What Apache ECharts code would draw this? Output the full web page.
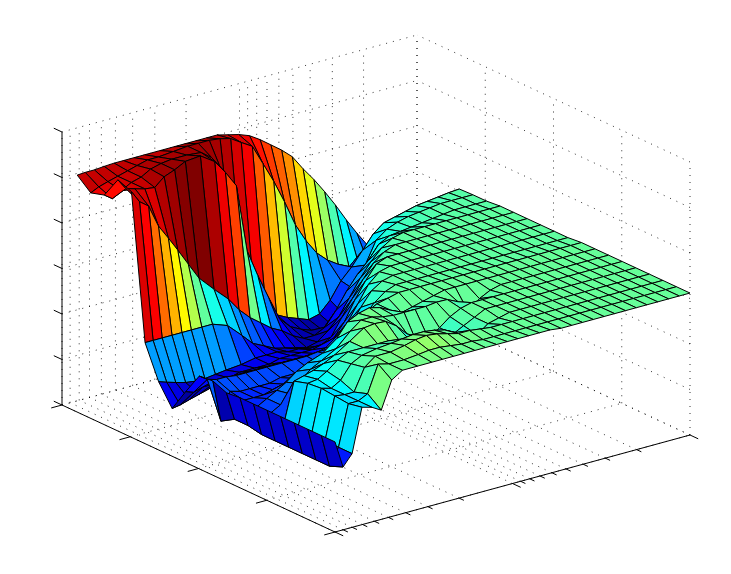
<!DOCTYPE html>
<html><head><meta charset="utf-8">
<style>html,body{margin:0;padding:0;background:#fff}#c{width:731px;height:574px}</style>
<script src="https://cdn.jsdelivr.net/npm/echarts@6/dist/echarts.min.js"></script>
</head><body><div id="c"></div>
<script>
const freq=[100,90.1,80.1,70.5,62,54.9,47.9,41.7,34.3,28.5,24.8,21.5,18.7,16.3,14.2,12.3,10.7,9.33,8.11,7.05,6.14,5.34,4.64,4.04,3.51,3.05,2.66,2.31,2.01,1.75,1.52,1.32,1.15,1];
const depth=[0,.199,.398,.596,.795,.994,1.193,1.392,1.59,1.789,1.988,2.187,2.386,2.584,2.783,2.982,3.181,3.38,3.578,3.777];
const freqMajor=[1,10,100];
const freqMinor=[2,3,4,5,6,7,8,9,20,30,40,50,60,70,80,90];
const depthTicks=[0,1,2,3,4];
const zTicks=[0,16.67,33.33,50,66.67,83.33,100];
const heights=[
[33,23,27,43,42,40,50,52.5,52.5,52.5,52.5,52.5,52.5,52.5,52.5,52.5,52.5,52.5,52.5,52.5,52.5,52,52,52,52,52,52,52,52,52,52,52,52,52],
[33,21,27,42,42,43.7,53.5,52.5,52.5,53,53.5,53.5,53,52.5,52.5,52,52,52,52,52,52,52,52,52,52,52,52,52,52,52,52,52,52,52],
[33,21,27,42.5,42,42,50,53,53,54,55,55.5,55,54,53,53,52.5,52,52,52,52,52,52,52,52,52,52,52,52,52,52,52,52,52],
[33,21,27,43,42,44,49,51,52,52.5,53,53.5,53.5,53,52,50,47,47,50,51,52,52,52,52,52,52,52,52,52,52,52,52,52,52],
[33,21,27,42.5,43,45,48,50,50,50,50,49,48,48,47,46,46,48,50,52,52,52,52,52,52,52,52,52,52,52,52,52,52,52],
[33,21,27,41,42,43,44.5,46.5,50,53.5,54,53.7,51,47,42,43,46,49,51,52,52,52,52,52,52,52,52,52,52,52,52,52,52,52],
[33,21,28,30,33,36,40,42,45,50,53,53,52,51.5,51.5,51.5,51.5,52,51.9,50,45,49,51,52,52,52,52,52,52,52,52,52,52,52],
[33,22,28,30,32,34,37,39,41,45,50,52,53,52,50,48,49,50,51,52,52,52,52,52,52,52,52,52,52,52,52,52,52,52],
[32.5,22,28,28,28,29,30,31,32,34,38,42,45,48,50,51,52,52,52,52,52,52,52,52,52,52,52,52,52,52,52,52,52,52],
[34.5,19,29,28,28,28,28,29,29,29,30,32,35,39,43,47,50,51.5,51.5,51.5,51.5,51.5,51.5,51.5,51.5,51.5,51.5,51.5,51.5,51.5,51.5,51.5,51.5,51.5],
[34,32,31,31,30.5,30.5,30.5,30.5,30.5,30.5,30.5,31,31,31.5,37,43,48,50.5,51.5,51.5,51.5,51.5,51.5,51.5,51.5,51.5,51.5,51.5,51.5,51.5,51.5,51.5,51.5,51.5],
[26,25,26,26,27,27,27,27,27,27,27,27,27,28,31,35,41,47,50.5,51.5,51.5,51.5,51.5,51.5,51.5,51.5,51.5,51.5,51.5,51.5,51.5,51.5,51.5,51.5],
[17.5,18,19,20,21,22,23,24,24,24,25,25,25,25,26,27,32,39,45,50,51.5,51.5,51.5,51.5,51.5,51.5,51.5,51.5,51.5,51.5,51.5,51.5,51.5,51.5],
[25,24,23,22,21.5,21.5,22,22.5,23,24,24,24,23,23,22,22,24,30,36,42,47,50,51.5,51.5,51.5,51.5,51.5,51.5,51.5,51.5,51.5,51.5,51.5,51.5],
[37,37,37,37,37,37,37,37,35,30,26,24,22,21,20,19,20,23,27,33,39,44,48,50.5,51.5,51.5,51.5,51.5,51.5,51.5,51.5,51.5,51.5,51.5],
[90,85.5,83,74.7,69.3,64,57.8,51.6,46,41,36,32,29,26,24,21,19,19,21,26,32,37,41,46,48,48.5,49,49.5,50,50.5,51,51,51,51],
[92,88,87,86,85.5,88.5,90,92,92.5,89,84,78,53,43,34,25,21,19,17.5,16.5,17,20,28,36,44,47,48.5,49.5,50,50.5,51,51,51,51],
[84.1,82,84,86,87,89,90,90.5,90.5,90,87,80,47,33,29,26,23,21,19.5,18,19,23,29,33,38,43,46,47,48,49,49.5,50,50.5,50.8],
[82.6,84,85,86,87,88,89,89,89.5,90,90,90,89.5,88.5,86,83.5,76,68.6,60,50.5,43.6,38,34.3,31.7,29.6,28,27,26,25,24,24,24,24,24],
[86.8,87,87,87.3,87.5,87.5,87.5,87.5,87.5,87.5,87.5,87.5,87.5,87.5,86.5,85.5,84,81.5,78.5,75.5,72,66.5,61.5,56,50,43.5,37.6,32,28.5,26,24.5,24,24,24]
];
const W=731,H=574;
function project(api,f,d,z){
  const p=api.coord([f,d]);
  const u=p[0]/W, v=(H-p[1])/H, w=z/100;
  return [335+355*u-273*v, 532-97*u-127*v-273*w];
}
function jet(z){
  const t=Math.min(1,Math.max(0,0.475+(z/100-0.52)*1.3));
  const c=x=>Math.round(255*Math.min(1,Math.max(0,1.5-Math.abs(4*t-x))));
  return `rgb(${c(3)},${c(2)},${c(1)})`;
}
const allFreq=freqMajor.concat(freqMinor);
const segs=[];
function seg(a,b,kind){segs.push([a[0],a[1],a[2],b[0],b[1],b[2],kind]);}
allFreq.forEach(f=>{seg([f,0,0],[f,4,0],1);seg([f,4,0],[f,4,100],1);});
depthTicks.forEach(d=>{seg([100,d,0],[1,d,0],1);seg([1,d,0],[1,d,100],1);});
zTicks.forEach(z=>{seg([100,4,z],[1,4,z],1);seg([1,0,z],[1,4,z],1);});
seg([100,4,0],[100,4,100],0);seg([100,4,0],[100,0,0],0);seg([100,0,0],[1,0,0],0);
freqMajor.forEach(f=>seg([f,0,0],[f,-0.12,0],0));
freqMinor.forEach(f=>seg([f,0,0],[f,-0.07,0],0));
depthTicks.forEach(d=>seg([100,d,0],[115,d,0],0));
zTicks.forEach(z=>seg([100,4,z],[100,4.12,z],0));
const cells=[];
for(let i=freq.length-2;i>=0;i--)for(let j=depth.length-2;j>=0;j--)cells.push([i,j]);
const chart=echarts.init(document.getElementById('c'),null,{renderer:'canvas',width:W,height:H});
chart.setOption({
  animation:false,
  backgroundColor:'#fff',
  grid:{left:0,top:0,width:W,height:H,containLabel:false},
  xAxis:{type:'log',logBase:10,min:1,max:100,inverse:true,show:false},
  yAxis:{type:'value',min:0,max:4,show:false},
  series:[
    {type:'custom',coordinateSystem:'cartesian2d',silent:true,clip:false,z:1,progressive:0,
     encode:{x:0,y:1},data:segs,
     renderItem:(params,api)=>{
       const s=segs[params.dataIndex];
       const a=project(api,s[0],s[1],s[2]),b=project(api,s[3],s[4],s[5]);
       return {type:'line',shape:{x1:a[0],y1:a[1],x2:b[0],y2:b[1]},
         style:s[6]?{stroke:'#000',lineWidth:0.8,lineDash:[1,6],fill:null}:{stroke:'#000',lineWidth:1,fill:null}};
     }},
    {type:'custom',coordinateSystem:'cartesian2d',silent:true,clip:false,z:2,progressive:0,
     encode:{x:0,y:1},data:cells,
     renderItem:(params,api)=>{
       const [i,j]=cells[params.dataIndex];
       const pts=[[i,j],[i+1,j],[i+1,j+1],[i,j+1]].map(q=>project(api,freq[q[0]],depth[q[1]],heights[q[1]][q[0]]));
       return {type:'polygon',shape:{points:pts},
         style:{fill:jet(heights[j+1][i+1]),stroke:'#000',lineWidth:1,lineJoin:'round'}};
     }}
  ]
});
</script></body></html>
